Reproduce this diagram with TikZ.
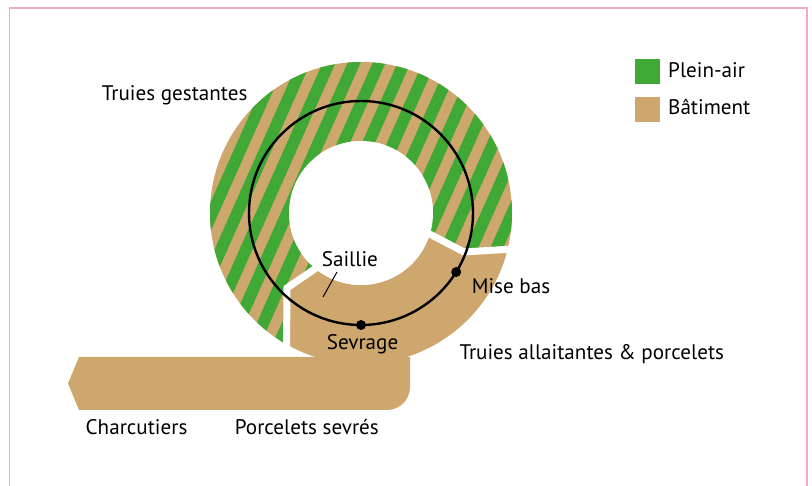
\documentclass[tikz,border=0pt]{standalone}
\usepackage{fontspec}
\setmainfont{PT Sans}
\definecolor{vert}{RGB}{64,168,52}
\definecolor{batcol}{RGB}{206,167,110}
\definecolor{pinkb}{RGB}{246,170,192}
\begin{document}
\begin{tikzpicture}[x=1pt,y=-1pt,
  lbl/.style={anchor=base west, inner sep=0pt, font=\fontsize{21.1}{25}\selectfont},
  sep/.style={white, line width=7pt},
  dotnode/.style={circle, fill=black, inner sep=0pt, minimum size=10pt},
  legbox/.style={minimum size=25pt, inner sep=0pt}]
\useasboundingbox (0,0) rectangle (812,486);
% frame
\draw[pinkb, line width=1.3pt] (9.3,495) -- (9.3,8) -- (807,8) -- (807,495);
\coordinate (C) at (361,213);
\coordinate (A1) at (430,234);
\coordinate (K1) at (464,252);
\coordinate (O1) at (512,249);
\coordinate (E1) at (545,247);
\coordinate (A2) at (314,270);
\coordinate (K2) at (287,288);
\coordinate (O2) at (286.5,352);
% tan annulus
\fill[batcol, even odd rule] (C) circle[radius=151] (C) circle[radius=72];
% striped part
\begin{scope}
  \clip (C) -- (A1) -- (K1) -- (O1) -- (E1) -- (545,0) -- (150,0) -- (150,420) -- (286.5,420) -- (K2) -- (A2) -- cycle;
  \clip (C) circle[radius=151];
  \foreach \i in {-10,...,26} {
    \fill[vert] ({5.7+25*\i+72.6},50) -- ({5.7+25*\i+85.6},50) -- ({5.7+25*\i+13-74.3},380) -- ({5.7+25*\i-74.3},380) -- cycle;
  }
\end{scope}
\fill[white] (C) circle[radius=72];
% separators
\draw[sep] (422,230) -- (K1) -- (E1);
\draw[sep] (322,264) -- (K2) -- (O2);
% bar
\fill[batcol] (79,357) -- (410,357) -- (410,387) arc[start angle=0, end angle=90, radius=23] -- (79,410) -- (68,383.5) -- cycle;
% cycle line
\draw[line width=2.4pt] (C) circle[radius=112];
\node[dotnode] (dmb) at ([shift={(31.8:112)}]C) {};
\node[dotnode] (dsv) at ([shift={(90:112)}]C) {};
% legend
\node[legbox, fill=vert, anchor=north west] (lg) at (635,59) {};
\node[legbox, fill=batcol, anchor=north west] (lb) at (635,97) {};
\node[lbl] (pa) at (668,77.3) {Plein-air};
\node[lbl] (bt) at (668,115) {Bâtiment};
% labels
\node[lbl] (tg) at (101.7,101) {Truies gestantes};
\node[lbl] (sa) at (321.7,266.7) {Saillie};
\coordinate (sa1) at (337,272);
\coordinate (sa2) at (323,297);
\draw[line width=1pt] (sa1) -- (sa2);
\node[lbl] (mb) at (471.7,293.3) {Mise bas};
\node[lbl] (sv) at (326.7,350) {Sevrage};
\node[lbl] (ta) at (459.3,360) {Truies allaitantes \& porcelets};
\node[lbl] (ch) at (85.5,435) {Charcutiers};
\node[lbl] (ps) at (234.7,435) {Porcelets sevrés};
\end{tikzpicture}
\end{document}
